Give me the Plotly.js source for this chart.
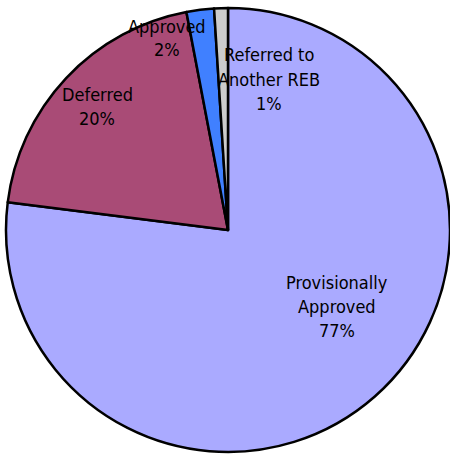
<!DOCTYPE html>
<html>
<head>
<meta charset="utf-8">
<script src="https://cdn.plot.ly/plotly-3.0.1.min.js"></script>
<style>html,body{margin:0;padding:0;background:#fff;}#chart{width:450px;height:454px;}</style>
</head>
<body>
<div id="chart"></div>
<script>
const categories = ["Provisionally Approved", "Deferred", "Approved", "Referred to Another REB"];
const values = [77, 20, 2, 1];
const labelLines = [["Provisionally", "Approved"], ["Deferred"], ["Approved"], ["Referred to", "Another REB"]];
const colors = ["#AAAAFF", "#A94B76", "#4080FF", "#CCCCCC"];
// label centres in pixels (layout only)
const labelPos = [[337, 306], [97, 107], [167, 38], [269, 79]];

const W = 450, H = 454, lineGap = 24;
const total = values.reduce((a, b) => a + b, 0);
const annotations = [];
categories.forEach((c, i) => {
  const lines = labelLines[i].concat([Math.round(values[i] / total * 100) + "%"]);
  const n = lines.length;
  lines.forEach((t, j) => {
    const py = labelPos[i][1] + (j - (n - 1) / 2) * lineGap;
    annotations.push({
      text: t, showarrow: false, xref: "paper", yref: "paper",
      x: labelPos[i][0] / W, y: 1 - py / H, xanchor: "center", yanchor: "middle",
      font: {family: "DejaVu Sans Condensed, DejaVu Sans", size: 18, color: "#000"}
    });
  });
});

Plotly.newPlot("chart", [{
  type: "pie",
  labels: categories,
  values: values,
  sort: false,
  direction: "clockwise",
  rotation: 0,
  textinfo: "none",
  hoverinfo: "label+percent",
  marker: {colors: colors, line: {color: "#000", width: 2.5}},
  domain: {x: [6 / W, 450 / W], y: [2 / H, 446 / H]},
  showlegend: false
}], {
  width: W, height: H,
  margin: {l: 0, r: 0, t: 0, b: 0},
  paper_bgcolor: "#fff",
  showlegend: false,
  annotations: annotations
}, {displayModeBar: false, staticPlot: true});
</script>
</body>
</html>
